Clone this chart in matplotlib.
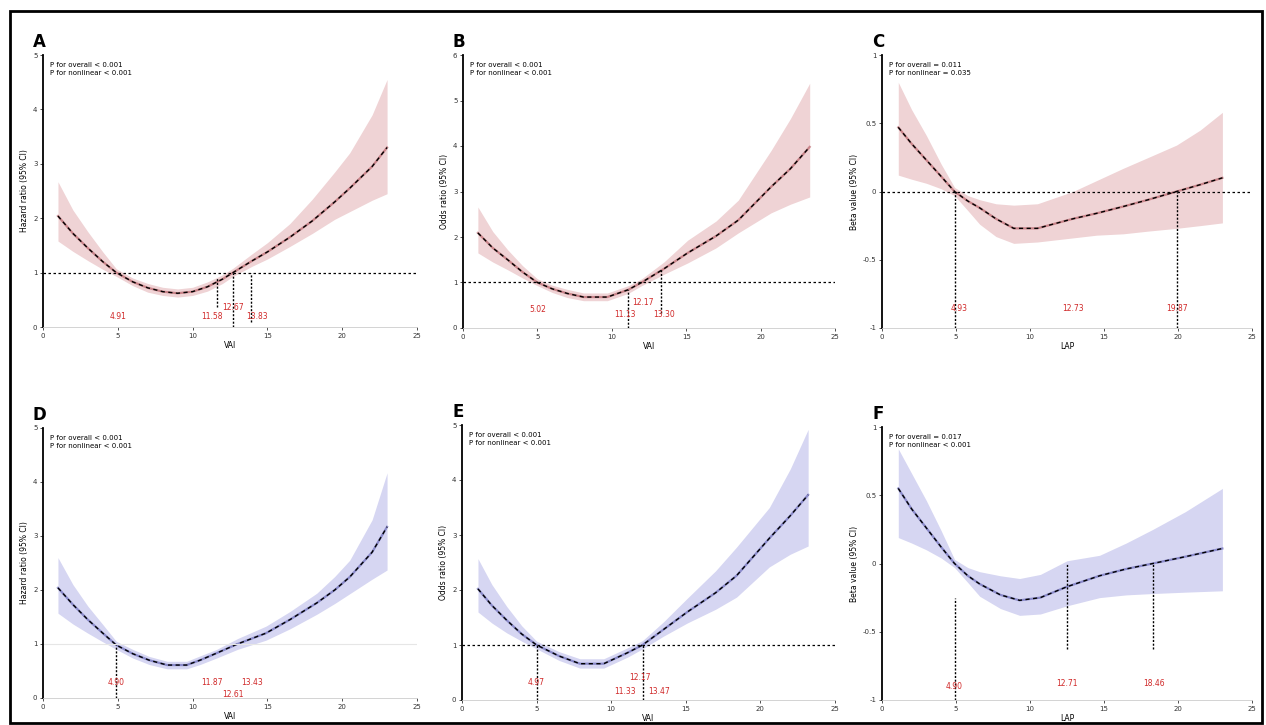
import matplotlib.pyplot as plt
from matplotlib.patches import Rectangle

W, H = 1266, 725

x_ticks = [0, 5, 10, 15, 20, 25]

# ---- panel A
a_x = [1, 2, 3, 4, 4.9, 6, 7, 8, 9, 10, 11, 12, 12.7, 14, 15, 16.5, 18, 19.5, 20.5, 22, 23]
a_y = [2.04, 1.72, 1.45, 1.2, 1.0, 0.83, 0.72, 0.65, 0.62, 0.65, 0.74, 0.88, 1.0,
       1.22, 1.38, 1.65, 1.95, 2.3, 2.55, 2.95, 3.3]
a_lo = [1.58, 1.39, 1.22, 1.06, 0.93, 0.76, 0.64, 0.58, 0.55, 0.58, 0.66, 0.8, 0.93,
        1.12, 1.25, 1.48, 1.72, 1.98, 2.12, 2.33, 2.45]
a_hi = [2.67, 2.15, 1.75, 1.38, 1.07, 0.9, 0.80, 0.73, 0.70, 0.73, 0.83, 0.96, 1.08,
        1.35, 1.55, 1.9, 2.35, 2.85, 3.2, 3.9, 4.55]
a_drop_x = [11.6, 12.7, 13.9]
a_drop_top = [0.91, 1.0, 1.0]
a_drop_bot = [0.36, 0.0, 0.1]
a_cut_text = ["4.91", "11.58", "12.67", "13.83"]
a_cut_x = [5.0, 11.3, 12.7, 14.3]
a_cut_y = [0.2, 0.2, 0.35, 0.2]

# ---- panel B
b_x = [1, 2, 3, 4, 5, 6, 7, 8.1, 9.7, 11.1, 12, 13.5, 15.1, 17, 18.5, 20.7, 22, 23.3]
b_y = [2.09, 1.76, 1.5, 1.23, 1.0, 0.86, 0.76, 0.68, 0.68, 0.84, 1.0, 1.3, 1.65,
       2.02, 2.37, 3.1, 3.5, 3.98]
b_lo = [1.65, 1.45, 1.28, 1.1, 0.93, 0.78, 0.67, 0.6, 0.6, 0.76, 0.93, 1.18, 1.43,
        1.76, 2.09, 2.53, 2.72, 2.88]
b_hi = [2.66, 2.12, 1.72, 1.37, 1.08, 0.94, 0.85, 0.77, 0.77, 0.93, 1.08, 1.45, 1.93,
        2.35, 2.81, 3.9, 4.6, 5.38]
b_drop_x = [11.1, 13.3]
b_drop_top = [0.84, 1.3]
b_drop_bot = [0.0, 0.33]
b_cut_text = ["5.02", "11.13", "12.17", "13.30"]
b_cut_x = [5.0, 10.9, 12.1, 13.5]
b_cut_y = [0.4, 0.29, 0.55, 0.29]

# ---- panel C
c_x = [1.1, 2, 3, 4, 4.9, 5.8, 6.6, 7.7, 8.9, 10.5, 12.9, 14.5, 16.3, 18, 19.9, 21.5, 23]
c_y = [0.47, 0.35, 0.23, 0.11, 0.0, -0.07, -0.12, -0.2, -0.27, -0.27, -0.2, -0.16,
       -0.11, -0.06, 0.0, 0.05, 0.1]
c_lo = [0.12, 0.09, 0.06, 0.02, -0.03, -0.14, -0.24, -0.33, -0.38, -0.37, -0.34, -0.32,
        -0.31, -0.29, -0.27, -0.25, -0.23]
c_hi = [0.8, 0.6, 0.41, 0.2, 0.03, -0.03, -0.06, -0.09, -0.1, -0.09, 0.0, 0.08,
        0.17, 0.25, 0.34, 0.45, 0.58]
c_drop_x = [4.9, 19.9]
c_drop_top = [0.0, 0.0]
c_drop_bot = [-1.0, -1.0]
c_cut_text = ["4.93", "12.73", "19.87"]
c_cut_x = [5.2, 12.9, 19.9]
c_cut_y = [-0.86, -0.86, -0.86]

# ---- panel D
d_x = [1, 2, 3, 4, 4.9, 6, 7.1, 8.3, 9.6, 10.5, 11.6, 13, 14.9, 16.5, 18.3, 19.5, 20.5, 22, 23]
d_y = [2.04, 1.73, 1.45, 1.2, 0.98, 0.82, 0.70, 0.61, 0.61, 0.7, 0.83, 1.0, 1.2,
       1.45, 1.76, 2.0, 2.24, 2.7, 3.17]
d_lo = [1.57, 1.37, 1.2, 1.04, 0.9, 0.74, 0.62, 0.54, 0.54, 0.62, 0.74, 0.9, 1.07,
        1.28, 1.55, 1.75, 1.93, 2.2, 2.37]
d_hi = [2.6, 2.1, 1.7, 1.36, 1.05, 0.9, 0.77, 0.68, 0.68, 0.78, 0.9, 1.1, 1.33,
        1.6, 1.94, 2.25, 2.55, 3.3, 4.17]
d_drop_x = [4.9]
d_drop_top = [0.98]
d_drop_bot = [0.0]
d_cut_text = ["4.90", "11.87", "13.43", "12.61"]
d_cut_x = [4.9, 11.3, 14.0, 12.7]
d_cut_y = [0.28, 0.28, 0.28, 0.06]

# ---- panel E
e_x = [1.07, 2, 3, 4, 5, 6.5, 7.9, 9.5, 11.1, 12.1, 13.5, 15.1, 17, 18.4, 20.6, 22, 23.2]
e_y = [2.02, 1.72, 1.45, 1.2, 1.0, 0.8, 0.66, 0.66, 0.86, 1.0, 1.28, 1.6, 1.95,
       2.26, 2.94, 3.35, 3.73]
e_lo = [1.6, 1.4, 1.22, 1.07, 0.93, 0.72, 0.58, 0.58, 0.78, 0.93, 1.16, 1.4, 1.65,
        1.87, 2.42, 2.65, 2.8]
e_hi = [2.57, 2.1, 1.7, 1.35, 1.07, 0.88, 0.75, 0.75, 0.95, 1.08, 1.42, 1.85, 2.35,
        2.78, 3.5, 4.2, 4.92]
e_drop_x = [5.0, 12.1]
e_drop_top = [1.0, 1.0]
e_drop_bot = [0.0, 0.0]
e_cut_text = ["4.97", "12.17", "11.33", "13.47"]
e_cut_x = [5.0, 11.9, 10.9, 13.2]
e_cut_y = [0.31, 0.4, 0.16, 0.16]

# ---- panel F
f_x = [1.1, 2, 3, 4, 4.9, 5.8, 6.6, 8, 9.3, 10.7, 12.5, 14.7, 16.5, 18.3, 20.5, 23]
f_y = [0.55, 0.4, 0.26, 0.12, 0.0, -0.09, -0.15, -0.23, -0.27, -0.25, -0.17, -0.09,
       -0.04, 0.0, 0.05, 0.11]
f_lo = [0.19, 0.15, 0.1, 0.04, -0.03, -0.14, -0.24, -0.33, -0.38, -0.37, -0.31, -0.25,
        -0.23, -0.22, -0.21, -0.2]
f_hi = [0.84, 0.66, 0.46, 0.24, 0.03, -0.03, -0.06, -0.09, -0.11, -0.08, 0.02, 0.06,
        0.15, 0.25, 0.38, 0.55]
f_drop_x = [4.9, 12.5, 18.3]
f_drop_top = [-0.25, 0.0, 0.0]
f_drop_bot = [-1.0, -0.63, -0.63]
f_cut_text = ["4.90", "12.71", "18.46"]
f_cut_x = [4.9, 12.5, 18.4]
f_cut_y = [-0.9, -0.88, -0.88]

p_texts = {
    "A": ("P for overall < 0.001", "P for nonlinear < 0.001"),
    "B": ("P for overall < 0.001", "P for nonlinear < 0.001"),
    "C": ("P for overall = 0.011", "P for nonlinear = 0.035"),
    "D": ("P for overall < 0.001", "P for nonlinear < 0.001"),
    "E": ("P for overall < 0.001", "P for nonlinear < 0.001"),
    "F": ("P for overall = 0.017", "P for nonlinear < 0.001"),
}

PINK = "#efd3d5"
LAV = "#d6d6f2"

# name, pixel box (x0, y0, x1, y1), ylim, yticks, ref line, band colour, ylabel, xlabel, data
panels = [
    ("A", (43, 55, 417, 327), (0, 5), [0, 1, 2, 3, 4, 5], 1, PINK,
     "Hazard ratio (95% CI)", "VAI", a_x, a_y, a_lo, a_hi,
     a_drop_x, a_drop_top, a_drop_bot, a_cut_text, a_cut_x, a_cut_y),
    ("B", (463, 55, 835, 328), (0, 6), [0, 1, 2, 3, 4, 5, 6], 1, PINK,
     "Odds ratio (95% CI)", "VAI", b_x, b_y, b_lo, b_hi,
     b_drop_x, b_drop_top, b_drop_bot, b_cut_text, b_cut_x, b_cut_y),
    ("C", (882, 55, 1252, 328), (-1, 1), [-1, -0.5, 0, 0.5, 1], 0, PINK,
     "Beta value (95% CI)", "LAP", c_x, c_y, c_lo, c_hi,
     c_drop_x, c_drop_top, c_drop_bot, c_cut_text, c_cut_x, c_cut_y),
    ("D", (43, 428, 417, 698), (0, 5), [0, 1, 2, 3, 4, 5], None, LAV,
     "Hazard ratio (95% CI)", "VAI", d_x, d_y, d_lo, d_hi,
     d_drop_x, d_drop_top, d_drop_bot, d_cut_text, d_cut_x, d_cut_y),
    ("E", (462, 425, 835, 700), (0, 5), [0, 1, 2, 3, 4, 5], 1, LAV,
     "Odds ratio (95% CI)", "VAI", e_x, e_y, e_lo, e_hi,
     e_drop_x, e_drop_top, e_drop_bot, e_cut_text, e_cut_x, e_cut_y),
    ("F", (882, 427, 1252, 700), (-1, 1), [-1, -0.5, 0, 0.5, 1], None, LAV,
     "Beta value (95% CI)", "LAP", f_x, f_y, f_lo, f_hi,
     f_drop_x, f_drop_top, f_drop_bot, f_cut_text, f_cut_x, f_cut_y),
]

fig = plt.figure(figsize=(W / 100, H / 100), dpi=100)
fig.patches.append(Rectangle((10 / W, 2 / H), 1252 / W, 712 / H, transform=fig.transFigure,
                             fill=False, lw=2, ec="black"))

for (name, box, ylim, yticks, ref, band, ylab, xlab, xs, ys, lo, hi,
     dx, dtop, dbot, ctext, cx, cy) in panels:
    x0, y0, x1, y1 = box
    ax = fig.add_axes([x0 / W, 1 - y1 / H, (x1 - x0) / W, (y1 - y0) / H])
    ax.set_xlim(0, 25)
    ax.set_ylim(*ylim)
    ax.set_xticks(x_ticks)
    ax.set_yticks(yticks)
    ax.set_yticklabels([f"{t:g}" for t in yticks])
    ax.tick_params(labelsize=5, length=2, width=0.6, pad=2, colors="#333333")
    for s in ["top", "right"]:
        ax.spines[s].set_visible(False)
    ax.spines["left"].set_linewidth(1.3)
    ax.spines["bottom"].set_color("#cccccc")
    ax.spines["bottom"].set_linewidth(0.6)

    ax.fill_between(xs, lo, hi, color=band, lw=0)
    line_col = "#b05058" if band == PINK else "#5858b0"
    ax.plot(xs, ys, color=line_col, lw=1.6, alpha=0.6)
    ax.plot(xs, ys, color="black", lw=1.0, ls=(0, (3, 2.5)))

    if ref is not None:
        ax.axhline(ref, color="black", lw=0.9, ls=(0, (2, 2)))
    elif name == "D":
        ax.axhline(1, color="#e6e6e6", lw=0.8)

    for xv, t, b in zip(dx, dtop, dbot):
        ax.plot([xv, xv], [b, t], color="black", lw=1.0, ls=(0, (1.5, 1.2)))
    for t, xv, yv in zip(ctext, cx, cy):
        ax.text(xv, yv, t, color="#d02828", fontsize=5.5, ha="center", va="center")

    p1, p2 = p_texts[name]
    ax.text(0.02, 0.975, p1 + "\n" + p2, transform=ax.transAxes, fontsize=5,
            ha="left", va="top", linespacing=1.4)
    ax.set_ylabel(ylab, fontsize=5.5, labelpad=3)
    ax.set_xlabel(xlab, fontsize=5.5, labelpad=2)
    fig.text((x0 - 10) / W, 1 - (y0 - 13) / H, name, fontsize=12, fontweight="bold",
             ha="left", va="center")

fig.savefig("out.png", dpi=100)
